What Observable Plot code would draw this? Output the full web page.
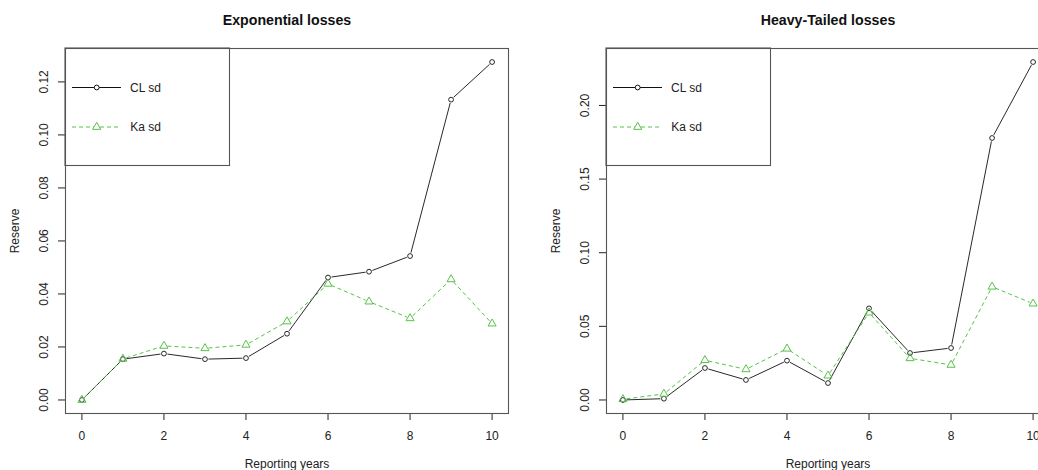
<!DOCTYPE html>
<html><head><meta charset="utf-8">
<script src="https://cdn.jsdelivr.net/npm/d3@7"></script>
<script src="https://cdn.jsdelivr.net/npm/@observablehq/plot@0.6"></script>
<style>
html,body{margin:0;padding:0;background:#fff;overflow:hidden}
#wrap{position:relative;width:1038px;height:470px;overflow:hidden;background:#fff}
#wrap svg{position:absolute;top:0}
</style></head><body><div id="wrap"></div>
<script>
// ---- data ----
const years = [0, 1, 2, 3, 4, 5, 6, 7, 8, 9, 10];
const xTicks = [0, 2, 4, 6, 8, 10];
const seriesNames = ["CL sd", "Ka sd"];
const titles = ["Exponential losses", "Heavy-Tailed losses"];
const xLabel = "Reporting years";
const yLabel = "Reserve";

const expCL = [0.0000, 0.0154, 0.0175, 0.0154, 0.0158, 0.0250, 0.0462, 0.0484, 0.0543, 0.1133, 0.1275];
const expKa = [0.0000, 0.0155, 0.0204, 0.0195, 0.0208, 0.0296, 0.0438, 0.0371, 0.0308, 0.0455, 0.0288];
const heavyCL = [0.0000, 0.0009, 0.0217, 0.0136, 0.0267, 0.0115, 0.0622, 0.0319, 0.0353, 0.1779, 0.2295];
const heavyKa = [0.0005, 0.0041, 0.0270, 0.0208, 0.0348, 0.0165, 0.0593, 0.0283, 0.0238, 0.0769, 0.0654];

const expYTicks = [0, 0.02, 0.04, 0.06, 0.08, 0.10, 0.12];
const expYLabels = ["0.00", "0.02", "0.04", "0.06", "0.08", "0.10", "0.12"];
const heavyYTicks = [0, 0.05, 0.10, 0.15, 0.20];
const heavyYLabels = ["0.00", "0.05", "0.10", "0.15", "0.20"];

// ---- styles ----
const FONT = "'Liberation Sans', Arial, Helvetica, sans-serif";
const INK = "#222";
const BOX = "#555";
const GREEN = "#58C24A";
const W = 519, H = 470, ML = 65, MR = 11, MT = 48, MB = 57;

function segments(v) {
  return years.slice(1).map((x, i) => ({x1: years[i], y1: v[i], x2: x, y2: v[i + 1]}));
}

function panel(cl, ka, yTicks, yLabels, title, left) {
  const all = cl.concat(ka);
  const lo = d3.min(all), hi = d3.max(all), r = hi - lo;
  const xr = d3.max(years) - d3.min(years);
  const ticksData = yTicks.map((t, i) => ({t, label: yLabels[i]}));
  const plot = Plot.plot({
    width: W, height: H,
    marginLeft: ML, marginRight: MR, marginTop: MT, marginBottom: MB,
    style: {fontFamily: FONT, fontSize: "12px", color: INK, background: "transparent", overflow: "visible"},
    x: {domain: [d3.min(years) - 0.04 * xr, d3.max(years) + 0.04 * xr]},
    y: {domain: [lo - 0.04 * r, hi + 0.04 * r]},
    marks: [
      Plot.axisX({ticks: xTicks, tickSize: 7, tickPadding: 11, label: null, stroke: INK, fill: INK, tickFormat: d => String(d)}),
      Plot.axisY({ticks: yTicks, tickSize: 7, label: null, stroke: INK, tickFormat: () => ""}),
      Plot.text(ticksData, {y: "t", text: "label", frameAnchor: "left", dx: -21, rotate: -90, textAnchor: "middle", lineAnchor: "middle", fill: INK, fontSize: 12}),
      Plot.text([yLabel], {frameAnchor: "left", dx: -50, rotate: -90, textAnchor: "middle", lineAnchor: "middle", fill: INK, fontSize: 12}),
      Plot.text([xLabel], {frameAnchor: "bottom", dy: 51, textAnchor: "middle", lineAnchor: "middle", fill: INK, fontSize: 12}),
      Plot.text([title], {frameAnchor: "top", dy: -28.5, textAnchor: "middle", lineAnchor: "middle", fill: "#111", fontSize: 14.2, fontWeight: "bold"}),
      // CL sd
      Plot.arrow(segments(cl), {x1: "x1", y1: "y1", x2: "x2", y2: "y2", headLength: 0, inset: 3.5, stroke: "#111", strokeWidth: 0.9, strokeLinecap: "butt"}),
      Plot.dot(years.map((x, i) => ({x, y: cl[i]})), {x: "x", y: "y", r: 2.4, stroke: "#111", strokeWidth: 0.9, fill: "none"}),
      // Ka sd
      Plot.arrow(segments(ka), {x1: "x1", y1: "y1", x2: "x2", y2: "y2", headLength: 0, inset: 3.5, stroke: GREEN, strokeWidth: 1, strokeDasharray: "4,3", strokeLinecap: "butt"}),
      Plot.dot(years.map((x, i) => ({x, y: ka[i]})), {x: "x", y: "y", symbol: "triangle", r: 3, stroke: GREEN, strokeWidth: 1, fill: "none"}),
      Plot.frame({stroke: BOX, strokeWidth: 1.1})
    ]
  });
  plot.style.left = left + "px";

  // legend (R topleft legend box)
  const svg = d3.select(plot);
  const g = svg.append("g").attr("transform", `translate(${ML},${MT})`)
    .attr("font-family", FONT).attr("font-size", 12);
  g.append("rect").attr("x", 0).attr("y", 0).attr("width", 164.5).attr("height", 117.5)
    .attr("fill", "none").attr("stroke", BOX).attr("stroke-width", 1.1);
  const rows = [
    {name: seriesNames[0], y: 39.5, color: "#111", dash: null, sym: d3.symbolCircle, size: Math.PI * 2.4 * 2.4},
    {name: seriesNames[1], y: 79, color: GREEN, dash: "4,3", sym: d3.symbolTriangle, size: Math.PI * 9}
  ];
  rows.forEach(rw => {
    g.append("line").attr("x1", 7).attr("x2", 56).attr("y1", rw.y).attr("y2", rw.y)
      .attr("stroke", rw.color).attr("stroke-width", 1).attr("stroke-dasharray", rw.dash);
    g.append("path").attr("d", d3.symbol(rw.sym, rw.size)()).attr("transform", `translate(31.7,${rw.y})`)
      .attr("fill", "#fff").attr("stroke", rw.color).attr("stroke-width", 1);
    g.append("text").attr("x", 80.5).attr("y", rw.y).attr("dy", "0.35em").attr("fill", INK).text(rw.name);
  });
  return plot;
}

const wrap = document.getElementById("wrap");
wrap.appendChild(panel(expCL, expKa, expYTicks, expYLabels, titles[0], 0));
wrap.appendChild(panel(heavyCL, heavyKa, heavyYTicks, heavyYLabels, titles[1], 541));
</script></body></html>
